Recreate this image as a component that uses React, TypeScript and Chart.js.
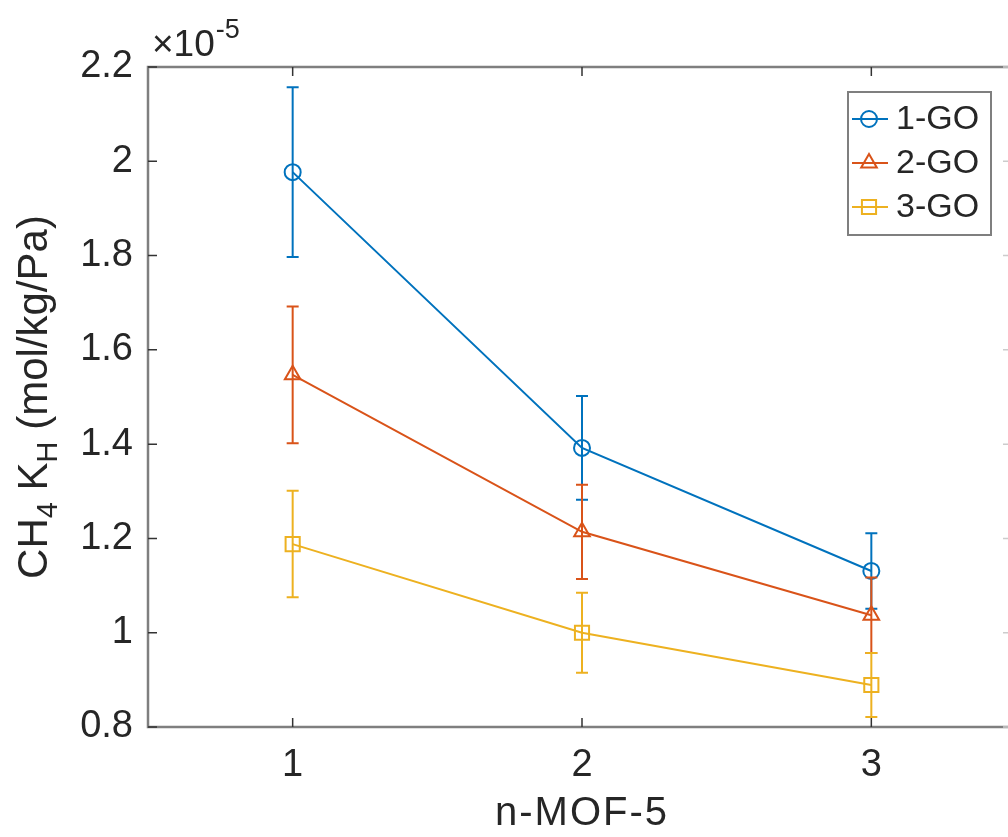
import React, { useEffect, useRef } from 'react';
import { Chart, registerables } from 'chart.js';
import { drawPoint } from 'chart.js/helpers';

Chart.register(...registerables);

// ---- data (values in units of 1e-5 mol/kg/Pa) ----
const categories = [1, 2, 3];
const seriesNames = ['1-GO', '2-GO', '3-GO'];
const go1 = [1.977, 1.392, 1.131];
const go1Err = [0.18, 0.11, 0.08];
const go2 = [1.547, 1.214, 1.037];
const go2Err = [0.145, 0.1, 0.08];
const go3 = [1.188, 1.0, 0.889];
const go3Err = [0.113, 0.085, 0.068];
const xTicks = [1, 2, 3];
const yTicks = [0.8, 1, 1.2, 1.4, 1.6, 1.8, 2, 2.2];
const xLabel = 'n-MOF-5';

const seriesValues = [go1, go2, go3];
const seriesErrors = [go1Err, go2Err, go3Err];
const colors = ['#0072BD', '#D95319', '#EDB120'];
const markers = ['circle', 'triangle', 'rect'];
const markerRadius = [8, 9, 10];

const FONT = "'Liberation Sans', Arial, Helvetica, sans-serif";
const TEXT = '#262626';
const AXIS = '#7f7f7f';

const matlabPlugin = {
  id: 'matlabStyle',
  beforeDatasetDraw(chart: any, args: any) {
    const i = args.index;
    const ctx = chart.ctx;
    const xs = chart.scales.x;
    const ys = chart.scales.y;
    const vals = seriesValues[i];
    const errs = seriesErrors[i];
    ctx.save();
    ctx.strokeStyle = colors[i];
    ctx.lineWidth = 2;
    const cap = 6;
    for (let k = 0; k < vals.length; k++) {
      const px = xs.getPixelForValue(categories[k]);
      const top = ys.getPixelForValue(vals[k] + errs[k]);
      const bot = ys.getPixelForValue(vals[k] - errs[k]);
      ctx.beginPath();
      ctx.moveTo(px, top);
      ctx.lineTo(px, bot);
      ctx.moveTo(px - cap, top);
      ctx.lineTo(px + cap, top);
      ctx.moveTo(px - cap, bot);
      ctx.lineTo(px + cap, bot);
      ctx.stroke();
    }
    ctx.restore();
  },
  afterDraw(chart: any) {
    const ctx = chart.ctx;
    const a = chart.chartArea;
    const xs = chart.scales.x;
    const ys = chart.scales.y;
    ctx.save();
    // axes box
    ctx.strokeStyle = AXIS;
    ctx.lineWidth = 2.5;
    ctx.strokeRect(a.left, a.top, a.right - a.left, a.bottom - a.top);
    // inward ticks
    ctx.lineWidth = 1.5;
    ctx.strokeStyle = '#333';
    const tl = 9;
    ctx.beginPath();
    xTicks.forEach((v) => {
      const px = xs.getPixelForValue(v);
      ctx.moveTo(px, a.bottom);
      ctx.lineTo(px, a.bottom - tl);
      ctx.moveTo(px, a.top);
      ctx.lineTo(px, a.top + tl);
    });
    yTicks.forEach((v) => {
      const py = ys.getPixelForValue(v);
      ctx.moveTo(a.left, py);
      ctx.lineTo(a.left + tl, py);
    });
    ctx.stroke();
    ctx.strokeStyle = '#cccccc';
    ctx.beginPath();
    yTicks.forEach((v) => {
      const py = ys.getPixelForValue(v);
      ctx.moveTo(a.right, py);
      ctx.lineTo(a.right - tl - 4, py);
    });
    ctx.stroke();

    // x-axis title
    ctx.fillStyle = TEXT;
    ctx.font = `40px ${FONT}`;
    (ctx as any).letterSpacing = '2px';
    ctx.textAlign = 'center';
    ctx.textBaseline = 'alphabetic';
    ctx.fillText(xLabel, xs.getPixelForValue(2), 825);
    (ctx as any).letterSpacing = '0px';

    // y-axis title with subscripts
    const parts: [string, boolean][] = [
      ['CH', false],
      ['4', true],
      [' K', false],
      ['H', true],
      [' (mol/kg/Pa)', false],
    ];
    const big = `42px ${FONT}`;
    const small = `29px ${FONT}`;
    let total = 0;
    parts.forEach(([t, sub]) => {
      ctx.font = sub ? small : big;
      total += ctx.measureText(t).width;
    });
    const cy = (a.top + a.bottom) / 2;
    ctx.save();
    ctx.translate(47, cy);
    ctx.rotate(-Math.PI / 2);
    ctx.textAlign = 'left';
    let cx = -total / 2;
    parts.forEach(([t, sub]) => {
      ctx.font = sub ? small : big;
      ctx.fillText(t, cx, sub ? 10 : 0);
      cx += ctx.measureText(t).width;
    });
    ctx.restore();

    // exponent multiplier
    ctx.textAlign = 'left';
    ctx.font = `37px ${FONT}`;
    ctx.fillText('\u00d710', 152, 56);
    const w = ctx.measureText('\u00d710').width;
    ctx.font = `27px ${FONT}`;
    ctx.fillText('-5', 152 + w + 1, 38);

    // legend
    const lx = a.right - 168;
    const ly = a.top + 25;
    const lw = 143;
    const lh = 143;
    ctx.fillStyle = '#ffffff';
    ctx.fillRect(lx, ly, lw, lh);
    ctx.strokeStyle = AXIS;
    ctx.lineWidth = 2;
    ctx.strokeRect(lx, ly, lw, lh);
    seriesNames.forEach((name, i) => {
      const ry = ly + 27 + i * 44;
      ctx.strokeStyle = colors[i];
      ctx.lineWidth = 2;
      ctx.beginPath();
      ctx.moveTo(lx + 4, ry);
      ctx.lineTo(lx + 40, ry);
      ctx.stroke();
      ctx.fillStyle = 'rgba(0,0,0,0)';
      ctx.strokeStyle = colors[i];
      drawPoint(ctx, {
        pointStyle: markers[i],
        radius: markerRadius[i],
        rotation: 0,
        borderWidth: 2,
      } as any, lx + 21, ry);
      ctx.fillStyle = TEXT;
      ctx.font = `34px ${FONT}`;
      ctx.textAlign = 'left';
      ctx.textBaseline = 'middle';
      ctx.fillText(name, lx + 48, ry + 1);
    });
    ctx.restore();
  },
};

export default function App() {
  const ref = useRef<HTMLCanvasElement>(null);
  useEffect(() => {
    if (!ref.current) return;
    const chart = new Chart(ref.current, {
      type: 'line',
      data: {
        datasets: seriesNames.map((name, i) => ({
          label: name,
          data: categories.map((c, k) => ({ x: c, y: seriesValues[i][k] })),
          borderColor: colors[i],
          backgroundColor: 'rgba(0,0,0,0)',
          borderWidth: 2,
          pointStyle: markers[i] as any,
          pointRadius: markerRadius[i],
          pointBorderWidth: 2,
          pointBorderColor: colors[i],
          pointBackgroundColor: 'rgba(0,0,0,0)',
          fill: false,
          tension: 0,
          order: seriesNames.length - 1 - i,
        })),
      },
      options: {
        animation: false,
        responsive: false,
        maintainAspectRatio: false,
        layout: { padding: { left: 0, top: 67, right: 14, bottom: 0 } },
        plugins: { legend: { display: false }, tooltip: { enabled: false } },
        scales: {
          x: {
            type: 'linear',
            min: 0.5,
            max: 3.5,
            afterBuildTicks: (s: any) => {
              s.ticks = xTicks.map((v) => ({ value: v }));
            },
            afterFit: (s: any) => {
              s.height = 110;
            },
            grid: { display: false, drawTicks: false },
            border: { display: false },
            ticks: {
              color: TEXT,
              padding: 16,
              font: { family: FONT, size: 38 },
              callback: (v: any) => String(v),
              maxRotation: 0,
            },
          },
          y: {
            type: 'linear',
            min: 0.8,
            max: 2.2,
            afterBuildTicks: (s: any) => {
              s.ticks = yTicks.map((v) => ({ value: v }));
            },
            afterFit: (s: any) => {
              s.width = 148;
            },
            grid: { display: false, drawTicks: false },
            border: { display: false },
            ticks: {
              color: TEXT,
              padding: 15,
              font: { family: FONT, size: 38 },
              callback: (v: any) => String(Number(Number(v).toFixed(1))),
            },
          },
        },
      },
      plugins: [matlabPlugin],
    });
    return () => chart.destroy();
  }, []);
  return (
    <div
      style={{
        position: 'absolute',
        left: 0,
        top: 0,
        width: 1008,
        height: 837,
        overflow: 'hidden',
        background: '#fff',
      }}
    >
      <canvas ref={ref} width={1030} height={837} style={{ width: 1030, height: 837, display: 'block' }} />
    </div>
  );
}
